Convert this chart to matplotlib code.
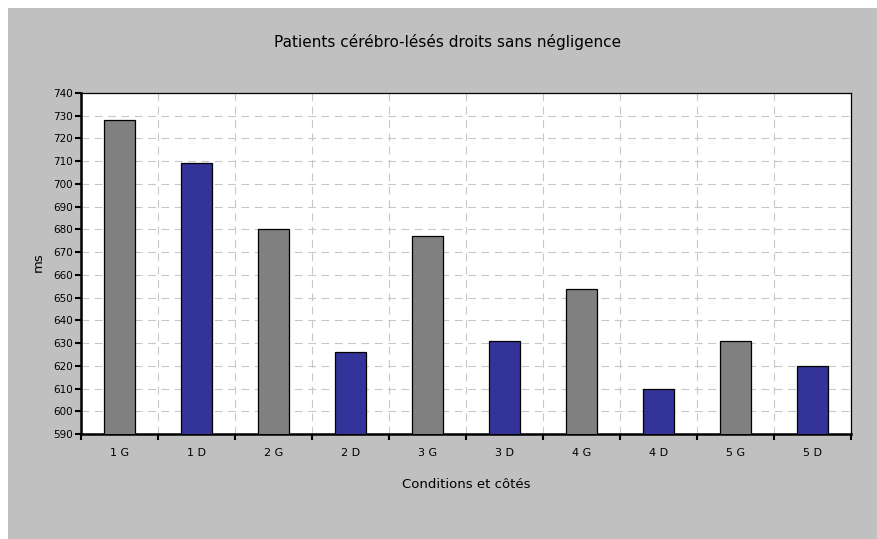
import matplotlib
matplotlib.use("Agg")
import matplotlib.pyplot as plt
from matplotlib.patches import Rectangle

categories = ["1 G", "1 D", "2 G", "2 D", "3 G", "3 D", "4 G", "4 D", "5 G", "5 D"]
values = [728, 709, 680, 626, 677, 631, 654, 610, 631, 620]
sides = ["G", "D", "G", "D", "G", "D", "G", "D", "G", "D"]
side_colors = {"G": "#808080", "D": "#333399"}

fig = plt.figure(figsize=(8.77, 5.39), dpi=100)
fig.patch.set_facecolor("white")
fig.patches.append(Rectangle((8 / 877, 0), 1 - 8 / 877, 1 - 8 / 539,
                             transform=fig.transFigure, facecolor="#c0c0c0",
                             edgecolor="none", zorder=-1))

ax = fig.add_axes([81 / 877, 1 - 434 / 539, (851 - 81) / 877, (434 - 93) / 539])
ax.set_facecolor("white")

x = list(range(len(categories)))
ax.bar(x, values, width=0.4, bottom=0, color=[side_colors[s] for s in sides],
       edgecolor="black", linewidth=0.9, zorder=3)

ax.set_xlim(-0.5, len(categories) - 0.5)
ax.set_ylim(590, 740)
ax.set_yticks(range(590, 741, 10))
ax.set_xticks([i - 0.5 for i in range(len(categories) + 1)])
ax.set_xticklabels([])
ax.set_xticks(x, minor=True)
ax.set_xticklabels(categories, minor=True)
ax.tick_params(axis="x", which="minor", length=0, pad=10, labelsize=8)
ax.tick_params(axis="x", which="major", direction="out", length=4, width=1.5)
ax.tick_params(axis="y", direction="out", length=4, width=1.5, labelsize=7.5, pad=2)

ax.grid(True, which="major", color="#c8c8c8", linestyle=(0, (7, 5)), linewidth=0.8, zorder=0)
ax.set_axisbelow(True)

for side in ["left", "bottom"]:
    ax.spines[side].set_linewidth(1.8)
for side in ["top", "right"]:
    ax.spines[side].set_linewidth(0.9)

fig.text(448 / 877, 1 - 42 / 539, "Patients cérébro-lésés droits sans négligence",
         fontsize=11, ha="center", va="center")
fig.text(466 / 877, 1 - 485 / 539, "Conditions et côtés", fontsize=9.5,
         ha="center", va="center")
fig.text(38 / 877, 1 - 262 / 539, "ms", fontsize=9.5, rotation=90,
         ha="center", va="center")

fig.savefig("out.png", dpi=100)
